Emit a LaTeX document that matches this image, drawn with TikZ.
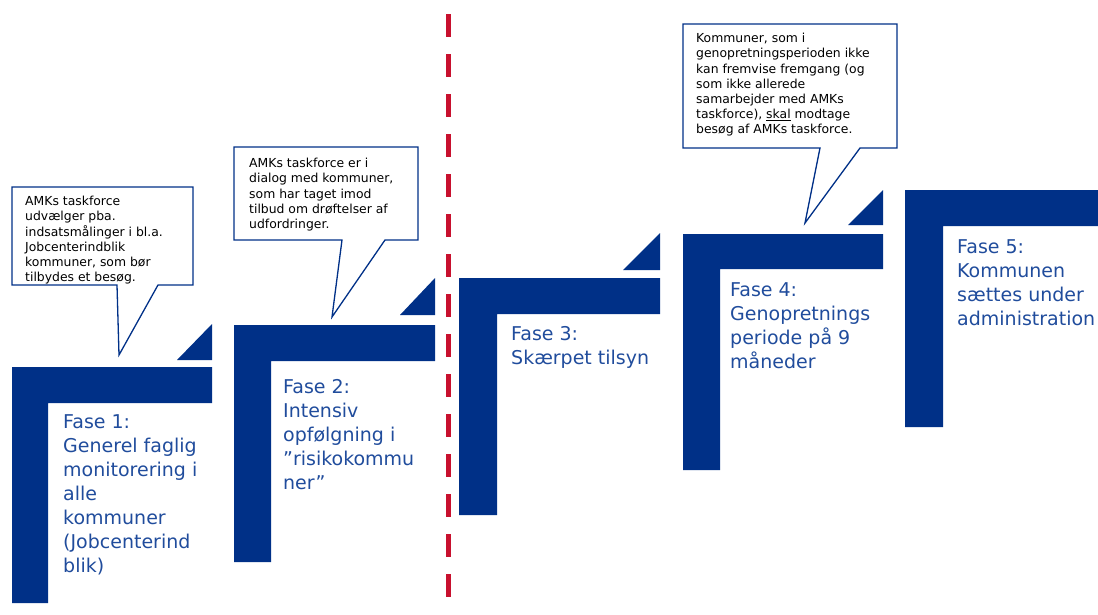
\documentclass[tikz,border=0pt]{standalone}
\usepackage{fontspec}
\setmainfont{DejaVu Sans}
\usepackage{tikz}
\usetikzlibrary{calc,positioning}

\definecolor{amknavy}{RGB}{0,48,135}
\definecolor{amkblaa}{RGB}{32,76,156}
\definecolor{amkrod}{RGB}{200,16,46}

\begin{document}
\begin{tikzpicture}[x=1pt,y=-1pt,
	blok/.style={fill=amknavy},
	fasetekst/.style={anchor=north west,inner sep=0pt,align=left,text=amkblaa,font=\fontsize{19}{24}\selectfont},
	boble/.style={draw=amknavy,line width=1.3pt,line join=miter},
	bobletekst/.style={anchor=north west,inner sep=0pt,align=left,font=\fontsize{12.4}{15.2}\selectfont},
	skel/.style={draw=amkrod,line width=5pt,dash pattern=on 23pt off 17pt}]
	\useasboundingbox (0,0) rectangle (1098,614);

	\coordinate (f_1) at (12,367);
	\coordinate (f_2) at (234,325);
	\coordinate (f_3) at (459,278);
	\coordinate (f_4) at (683,234);
	\coordinate (f_5) at (905,190);

	\fill[blok] (f_1) -- ++(200,0) -- ++(0,36) -- ++(-164,0) -- ++(0,200) -- ++(-36,0) -- cycle;
	\fill[blok] (f_2) -- ++(201,0) -- ++(0,36) -- ++(-164,0) -- ++(0,201) -- ++(-37,0) -- cycle;
	\fill[blok] (f_3) -- ++(201,0) -- ++(0,36) -- ++(-163,0) -- ++(0,201) -- ++(-38,0) -- cycle;
	\fill[blok] (f_4) -- ++(200,0) -- ++(0,35) -- ++(-163,0) -- ++(0,201) -- ++(-37,0) -- cycle;
	\fill[blok] (f_5) -- ++(200,0) -- ++(0,36) -- ++(-162,0) -- ++(0,201) -- ++(-38,0) -- cycle;

	\fill[blok] ($(f_1)+(165,-7)$) -- ++(35,0) -- ++(0,-36) -- cycle;
	\fill[blok] ($(f_2)+(166,-10)$) -- ++(35,0) -- ++(0,-37) -- cycle;
	\fill[blok] ($(f_3)+(164,-8)$) -- ++(37,0) -- ++(0,-37) -- cycle;
	\fill[blok] ($(f_4)+(165,-9)$) -- ++(35,0) -- ++(0,-35) -- cycle;

	\node[fasetekst] (fase_1) at ($(f_1)+(51,47)$) {Fase 1:\\Generel faglig\\monitorering i\\alle\\kommuner\\(Jobcenterind\\blik)};
	\node[fasetekst] (fase_2) at ($(f_2)+(49,54)$) {Fase 2:\\Intensiv\\opfølgning i\\”risikokommu\\ner”};
	\node[fasetekst] (fase_3) at ($(f_3)+(52,48)$) {Fase 3:\\Skærpet tilsyn};
	\node[fasetekst] (fase_4) at ($(f_4)+(47,48)$) {Fase 4:\\Genopretnings\\periode på 9\\måneder};
	\node[fasetekst] (fase_5) at ($(f_5)+(52,49)$) {Fase 5:\\Kommunen\\sættes under\\administration};

	\coordinate (b_1) at (12,187);
	\coordinate (b_1e) at (193,285);
	\coordinate (p_1) at (119,355);
	\coordinate (b_2) at (234,147);
	\coordinate (b_2e) at (418,240);
	\coordinate (p_2) at (332,317);
	\coordinate (b_4) at (683,24);
	\coordinate (b_4e) at (897,148);
	\coordinate (p_4) at (805,223);

	\node[bobletekst] (boble_1) at ($(b_1)+(13,9)$) {AMKs taskforce\\udvælger pba.\\indsatsmålinger i bl.a.\\Jobcenterindblik\\kommuner, som bør\\tilbydes et besøg.};
	\node[bobletekst] (boble_2) at ($(b_2)+(15,11)$) {AMKs taskforce er i\\dialog med kommuner,\\som har taget imod\\tilbud om drøftelser af\\udfordringer.};
	\node[bobletekst] (boble_4) at ($(b_4)+(13,9)$) {Kommuner, som i\\genopretningsperioden ikke\\kan fremvise fremgang (og\\som ikke allerede\\samarbejder med AMKs\\taskforce), \underline{skal} modtage\\besøg af AMKs taskforce.};

	\draw[boble] (b_1) -| (b_1e) -- ++(-35,0) -- (p_1) -- ($(b_1e)+(-76,0)$) -- (b_1 |- b_1e) -- cycle;
	\draw[boble] (b_2) -| (b_2e) -- ++(-33,0) -- (p_2) -- ($(b_2e)+(-76,0)$) -- (b_2 |- b_2e) -- cycle;
	\draw[boble] (b_4) -| (b_4e) -- ++(-37,0) -- (p_4) -- ($(b_4e)+(-77,0)$) -- (b_4 |- b_4e) -- cycle;

	\coordinate (skel_top) at (448,14);
	\coordinate (skel_bund) at (448,600);
	\draw[skel] (skel_top) -- (skel_bund);
\end{tikzpicture}
\end{document}
